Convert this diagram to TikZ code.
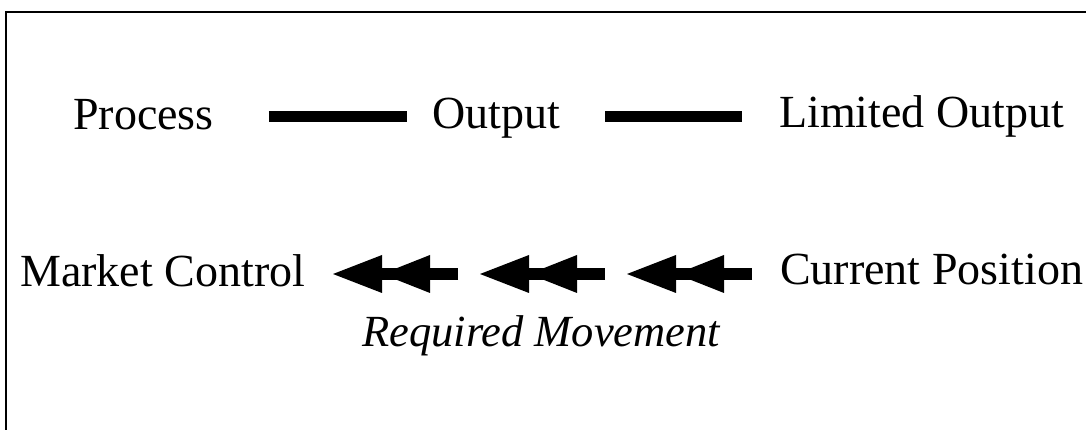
\documentclass[tikz,border=0pt]{standalone}
\usepackage{fontspec}
\setmainfont{Liberation Serif}
\usetikzlibrary{arrows.meta, calc, positioning}

\tikzset{
  label text/.style={anchor=base west, inner sep=0pt, font=\fontsize{46}{50}\selectfont},
  bar/.style={line width=11pt},
  movearrow/.style={line width=12pt,
    -{Triangle[length=48pt,width=38pt,line width=0pt]Triangle[length=49pt,width=38pt,line width=0pt]}}
}

\begin{document}
\begin{tikzpicture}[x=1pt,y=1pt]
\useasboundingbox (0,0) rectangle (1086,430);

%% frame
\draw[line width=2pt] (6,0) -- (6,417.5) -- (1086,417.5);

%% top row
\node[label text] (process) at (73,300) {Process};
\node[label text] (output) at (432,301) {Output};
\node[label text] (limited) at (779,302) {Limited Output};
\coordinate (row1) at (0,313.5);
\draw[bar, shorten <=55pt, shorten >=25pt] (process.east |- row1) -- (output.west |- row1);
\draw[bar, shorten <=45pt, shorten >=37pt] (output.east |- row1) -- (limited.west |- row1);

%% bottom row
\node[label text] (market) at (20,143) {Market Control};
\node[label text] (current) at (780,145) {Current Position};
\node[label text, font=\fontsize{44.5}{50}\selectfont\itshape] (required) at (362,83) {Required Movement};
\coordinate (row2) at (0,156);
\foreach \i in {0,1,2}
  \draw[movearrow] ($(current.west |- row2)+(-28-\i*147,0)$) -- ++(-125,0);

\end{tikzpicture}
\end{document}
